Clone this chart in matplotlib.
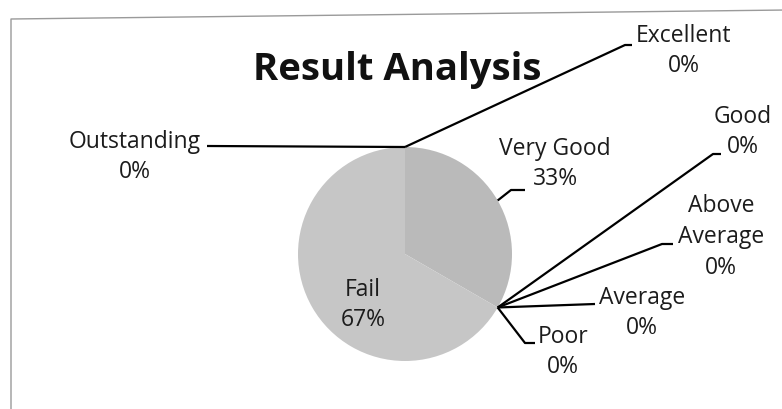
import matplotlib.pyplot as plt
import numpy as np

# ---- data ----
categories = ["Outstanding", "Excellent", "Very Good", "Good",
              "Above Average", "Average", "Poor", "Fail"]
values = [0, 0, 33.33, 0, 0, 0, 0, 66.67]
display_names = ["Outstanding", "Excellent", "Very Good", "Good",
                 "Above\nAverage", "Average", "Poor", "Fail"]
title = "Result Analysis"

# ---- layout (pixel coords, origin top-left) ----
W, H = 782, 409
PIE_CX, PIE_CY, PIE_R = 405, 254, 107
label_pos = {
    "Outstanding": (135, 157),
    "Excellent": (684, 51),
    "Very Good": (555, 164),
    "Good": (743, 132),
    "Above Average": (721, 237),
    "Average": (642, 313),
    "Poor": (563, 352),
    "Fail": (363, 305),
}
leader_pts = {
    "Outstanding": [(207, 146)],
    "Excellent": [(625, 45), (632, 45)],
    "Very Good": [(511, 190), (525, 190)],
    "Good": [(713, 154), (721, 154)],
    "Above Average": [(662, 244), (673, 244)],
    "Average": [(595, 304)],
    "Poor": [(525, 343), (535, 343)],
}
colors = ["#c2c2c2", "#c2c2c2", "#bababa", "#c2c2c2",
          "#c2c2c2", "#c2c2c2", "#c2c2c2", "#c6c6c6"]

plt.rcParams['font.family'] = ['Open Sans', 'DejaVu Sans']
TXT = "#1c1c1c"

fig = plt.figure(figsize=(7.82, 4.09), dpi=100)
fig.patch.set_facecolor("white")
ax = fig.add_axes([0, 0, 1, 1])

def Y(py):
    return H - py

wedges, _ = ax.pie(values, center=(PIE_CX, Y(PIE_CY)), radius=PIE_R,
                   startangle=90, counterclock=False, colors=colors,
                   wedgeprops=dict(linewidth=0), frame=True)
ax.set_xlim(0, W)
ax.set_ylim(0, H)
ax.set_aspect('auto')
ax.axis('off')

# chart border (scanned frame)
ax.plot([11, 11, W + 5], [Y(H + 5), Y(19), Y(10)], color="#9a9a9a", lw=1.0)

total = sum(values)
for i, cat in enumerate(categories):
    w = wedges[i]
    mid = np.deg2rad((w.theta1 + w.theta2) / 2)
    pct = f"{round(values[i] / total * 100):.0f}%"
    lx, ly = label_pos[cat]
    ax.text(lx, Y(ly), f"{display_names[i]}\n{pct}", ha="center", va="center",
            fontsize=16.5, color=TXT, linespacing=1.38)
    if cat in leader_pts:
        ax_ = PIE_CX + PIE_R * np.cos(mid)
        ay_ = Y(PIE_CY) + PIE_R * np.sin(mid)
        xs = [ax_] + [p[0] for p in leader_pts[cat]]
        ys = [ay_] + [Y(p[1]) for p in leader_pts[cat]]
        ax.plot(xs, ys, color="black", lw=1.6, solid_capstyle="butt")

ax.text(397, Y(70), title, ha="center", va="center", fontsize=27.5,
        fontweight="bold", color="#111111")

fig.savefig("out.png", dpi=100, facecolor="white")
